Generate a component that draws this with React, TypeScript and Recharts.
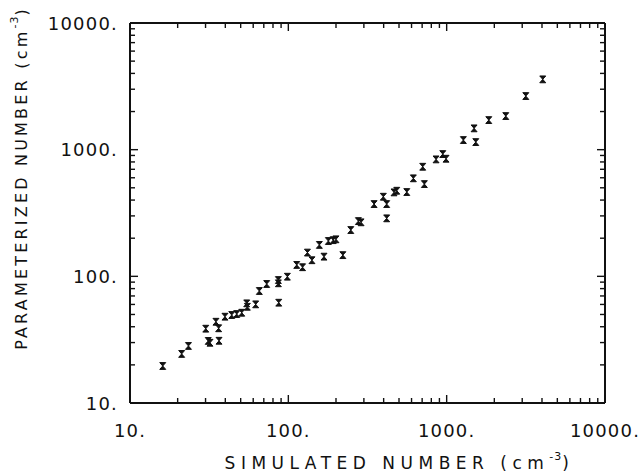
import { Scatter, ScatterChart, XAxis, YAxis } from 'recharts';

// simulated vs parameterized number concentration (cm^-3)
const simulated = [
  16.1, 21.2, 23.4, 30.1, 31.2, 32.0, 36.5, 34.9, 36.3, 39.8,
  43.9, 47.2, 50.8, 54.6, 55.1, 62.2, 65.6, 73.0, 86.5, 86.5,
  87.0, 98.6, 113, 123, 132, 141, 157, 168, 179, 192,
  200, 221, 248, 277, 288, 348, 398, 418, 418, 465,
  484, 560, 616, 723, 706, 857, 945, 991, 1275, 1490,
  1527, 1845, 2362, 3161, 4045,
];
const parameterized = [
  19.6, 24.4, 28.2, 38.6, 30.9, 29.9, 31.0, 43.8, 38.9, 48.0,
  49.5, 50.4, 51.6, 61.2, 57.5, 60.1, 76.6, 87.0, 88.1, 93.5,
  61.9, 99.3, 123, 118, 154, 134, 177, 143, 190, 193,
  196, 147, 232, 273, 267, 372, 425, 372, 287, 460,
  474, 463, 594, 535, 733, 838, 923, 848, 1191, 1473,
  1148, 1712, 1842, 2650, 3590,
];

const decades = [10, 100, 1000, 10000];
const minorSteps = [2, 3, 4, 5, 6, 7, 8, 9];

const points = simulated.map((x, i) => ({ x, y: parameterized[i] }));
const allTicks = [
  ...decades,
  ...decades.slice(0, 3).flatMap((d) => minorSteps.map((k) => k * d)),
].sort((a, b) => a - b);

const INK = '#111';
const FONT = '"DejaVu Sans", sans-serif';
const MAJOR = 8;
const MINOR = 5;

const isMajor = (v: number) => decades.includes(v);

function BottomTick({ x, y, payload }: any) {
  const major = isMajor(payload.value);
  return (
    <g>
      <line x1={x} x2={x} y1={y} y2={y - (major ? MAJOR : MINOR)} stroke={INK} strokeWidth={1.4} />
      {major && (
        <text x={x} y={y + 27} textAnchor="middle" dominantBaseline="central"
          fontFamily={FONT} fontSize={18} letterSpacing={1.2} fill={INK}>
          {`${payload.value}.`}
        </text>
      )}
    </g>
  );
}

function LeftTick({ x, y, payload }: any) {
  const major = isMajor(payload.value);
  return (
    <g>
      <line x1={x} x2={x + (major ? MAJOR : MINOR)} y1={y} y2={y} stroke={INK} strokeWidth={1.4} />
      {major && (
        <text x={x - 12} y={y} textAnchor="end" dominantBaseline="central"
          fontFamily={FONT} fontSize={18} letterSpacing={1.2} fill={INK}>
          {`${payload.value}.`}
        </text>
      )}
    </g>
  );
}

function TopTick({ x, y, payload }: any) {
  const len = isMajor(payload.value) ? MAJOR : MINOR;
  return <line x1={x} x2={x} y1={y} y2={y + len} stroke={INK} strokeWidth={1.4} />;
}

function RightTick({ x, y, payload }: any) {
  const len = isMajor(payload.value) ? MAJOR : MINOR;
  return <line x1={x} x2={x - len} y1={y} y2={y} stroke={INK} strokeWidth={1.4} />;
}

function Hourglass({ cx, cy }: any) {
  if (cx == null || cy == null) return <g />;
  return <path d={`M${cx - 3},${cy - 3.4}h6l-6,6.8h6z`} fill={INK} stroke={INK} strokeWidth={1} />;
}

function XTitle({ viewBox }: any) {
  const cx = viewBox.x + viewBox.width / 2 + 32;
  return (
    <text x={cx} y={viewBox.y + 60} textAnchor="middle" dominantBaseline="central"
      fontFamily={FONT} fontSize={17} letterSpacing={5.5} fill={INK}>
      SIMULATED NUMBER (cm
      <tspan dy={-7} fontSize={11} letterSpacing={1}>-3</tspan>
      <tspan dy={7}>)</tspan>
    </text>
  );
}

function YTitle() {
  const cx = 21;
  const cy = 178;
  return (
    <text x={cx} y={cy} textAnchor="middle" dominantBaseline="central"
      transform={`rotate(-90 ${cx} ${cy})`}
      fontFamily={FONT} fontSize={16} letterSpacing={3.2} fill={INK}>
      PARAMETERIZED NUMBER (cm
      <tspan dy={-7} fontSize={11} letterSpacing={1}>-3</tspan>
      <tspan dy={7}>)</tspan>
    </text>
  );
}

export default function App() {
  const axisLine = { stroke: INK, strokeWidth: 2 };
  const common = {
    type: 'number' as const,
    scale: 'log' as const,
    domain: [10, 10000],
    allowDataOverflow: true,
    ticks: allTicks,
    interval: 0 as const,
    tickSize: 0,
    tickMargin: 0,
    axisLine,
  };

  return (
    <div style={{ position: 'absolute', left: 0, top: 0, width: 641, height: 473, background: '#fff' }}>
      <ScatterChart width={641} height={473} margin={{ top: 22, right: 35, bottom: 0, left: 0 }}>
        <XAxis xAxisId="bottom" dataKey="x" orientation="bottom" height={70} {...common}
          tick={<BottomTick />} label={<XTitle />} />
        <XAxis xAxisId="top" dataKey="x" orientation="top" height={1} {...common} tick={<TopTick />} />
        <YAxis yAxisId="left" dataKey="y" orientation="left" width={130} {...common}
          tick={<LeftTick />} label={<YTitle />} />
        <YAxis yAxisId="right" dataKey="y" orientation="right" width={1} {...common} tick={<RightTick />} />
        <Scatter xAxisId="top" yAxisId="right" data={points} shape={() => <g />} isAnimationActive={false} />
        <Scatter xAxisId="bottom" yAxisId="left" data={points} shape={<Hourglass />} isAnimationActive={false} />
      </ScatterChart>
    </div>
  );
}
